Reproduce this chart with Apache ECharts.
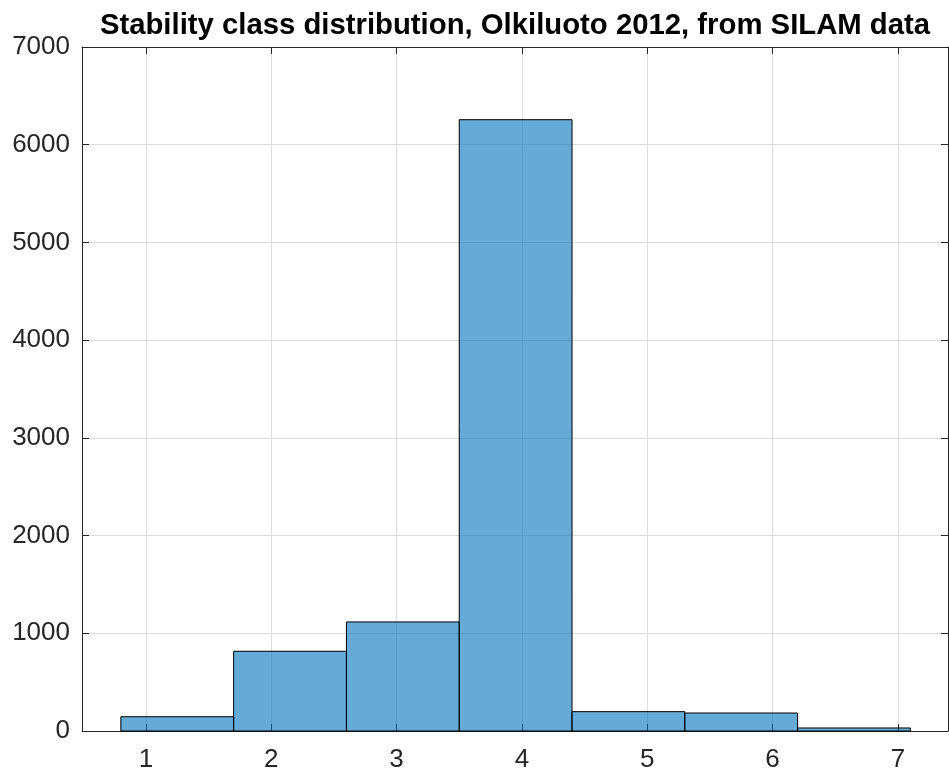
<!DOCTYPE html>
<html>
<head>
<meta charset="utf-8">
<script src="https://cdn.jsdelivr.net/npm/echarts@6/dist/echarts.min.js"></script>
<style>
html,body{margin:0;padding:0;background:#fff;}
#chart{width:949px;height:774px;}
</style>
</head>
<body>
<div id="chart"></div>
<script>
const titleText = 'Stability class distribution, Olkiluoto 2012, from SILAM data';
const binEdges = [0.8, 1.7, 2.6, 3.5, 4.4, 5.3, 6.2, 7.1];
const counts = [146, 816, 1116, 6256, 198, 184, 31];
const xTicks = [1, 2, 3, 4, 5, 6, 7];
const yMin = 0, yMax = 7000, yStep = 1000;
const xMin = 0.49, xMax = 7.4;

const FONT = "'Liberation Sans', Arial, Helvetica, sans-serif";
const AX = '#262626';
const GRID = '#dcdcdc';

const barData = counts.map((c, i) => [binEdges[i], binEdges[i + 1], c]);

const chart = echarts.init(document.getElementById('chart'), null, {renderer: 'canvas'});

const baseX = {
  type: 'value', min: xMin, max: xMax,
  axisLine: {show: true, onZero: false, lineStyle: {color: AX, width: 1}},
  axisTick: {show: true, inside: true, length: 7, customValues: xTicks, lineStyle: {color: AX}},
};
const baseY = {
  type: 'value', min: yMin, max: yMax, interval: yStep,
  axisLine: {show: true, onZero: false, lineStyle: {color: AX, width: 1}},
  axisTick: {show: true, inside: true, length: 7, lineStyle: {color: AX}},
};

chart.setOption({
  animation: false,
  backgroundColor: '#fff',
  textStyle: {fontFamily: FONT},
  grid: {left: 82, right: 1, top: 47, bottom: 43, containLabel: false},
  graphic: [{
    type: 'text', x: 515, y: 11,
    style: {text: titleText, font: 'bold 29.3px ' + FONT, fill: '#000', textAlign: 'center', textVerticalAlign: 'top'}
  }],
  xAxis: [
    Object.assign({}, baseX, {
      position: 'bottom',
      axisLabel: {show: true, customValues: xTicks, fontSize: 26, color: AX, margin: 16, fontFamily: FONT},
      splitLine: {show: true, lineStyle: {color: GRID, width: 1}}
    }),
    Object.assign({}, baseX, {
      position: 'top',
      axisLabel: {show: false},
      splitLine: {show: false}
    })
  ],
  yAxis: [
    Object.assign({}, baseY, {
      position: 'left',
      axisLabel: {show: true, fontSize: 26, color: AX, margin: 12, fontFamily: FONT,
        formatter: function (v) { return String(v); }},
      splitLine: {show: true, lineStyle: {color: GRID, width: 1}}
    }),
    Object.assign({}, baseY, {
      position: 'right',
      axisLabel: {show: false},
      splitLine: {show: false}
    })
  ],
  series: [{
    type: 'custom',
    xAxisIndex: 0, yAxisIndex: 0,
    data: barData,
    encode: {x: [0, 1], y: 2},
    renderItem: function (params, api) {
      const p0 = api.coord([api.value(0), api.value(2)]);
      const p1 = api.coord([api.value(1), 0]);
      return {
        type: 'rect',
        shape: {x: p0[0], y: p0[1], width: p1[0] - p0[0], height: p1[1] - p0[1]},
        style: {fill: 'rgba(0,114,189,0.6)', stroke: '#000', lineWidth: 1}
      };
    }
  }]
});
</script>
</body>
</html>
